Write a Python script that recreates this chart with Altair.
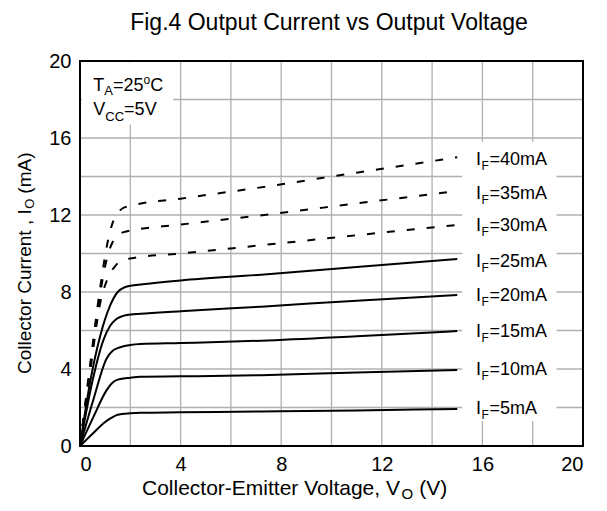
import altair as alt
import pandas as pd

FONT = "Liberation Sans"

# ---------------- data ----------------
V_IF5 = [0, 0.53, 1.0, 1.3, 1.5, 2.0, 2.4, 4, 7.2, 11, 15]
I_IF5 = [0, 0.68, 1.25, 1.5, 1.62, 1.7, 1.73, 1.75, 1.79, 1.85, 1.92]
V_IF10 = [0, 0.53, 1.06, 1.3, 1.5, 2.0, 2.4, 4, 7.2, 11, 15]
I_IF10 = [0, 1.5, 2.9, 3.3, 3.45, 3.55, 3.6, 3.62, 3.68, 3.82, 3.95]
V_IF15 = [0, 0.53, 1.06, 1.3, 1.52, 2.0, 2.4, 4, 7.2, 11, 15]
I_IF15 = [0, 2.4, 4.55, 4.95, 5.1, 5.25, 5.3, 5.35, 5.47, 5.7, 5.97]
V_IF20 = [0, 0.5, 0.93, 1.2, 1.4, 1.86, 2.4, 4, 7.2, 11, 15]
I_IF20 = [0, 3.4, 5.5, 6.25, 6.55, 6.8, 6.87, 7.0, 7.24, 7.55, 7.85]
V_IF25 = [0, 0.4, 0.8, 1.2, 1.5, 1.9, 2.5, 4, 7.2, 11, 15]
I_IF25 = [0, 3.3, 5.7, 7.3, 8.0, 8.3, 8.4, 8.6, 8.9, 9.3, 9.71]
V_IF30 = [0, 0.4, 0.8, 1.1, 1.4, 1.7, 2.05, 4, 7, 11, 15]
I_IF30 = [0, 3.8, 7.4, 8.7, 9.35, 9.65, 9.75, 10.0, 10.4, 10.95, 11.48]
V_IF35 = [0, 0.4, 0.8, 1.1, 1.3, 1.5, 1.8, 4, 7, 11, 15]
I_IF35 = [0, 4.0, 7.9, 9.9, 10.6, 10.95, 11.13, 11.5, 11.95, 12.6, 13.25]
V_IF40 = [0, 0.4, 0.8, 1.1, 1.3, 1.5, 1.7, 2.0, 4, 7, 11, 15]
I_IF40 = [0, 4.2, 8.2, 10.6, 11.6, 12.1, 12.35, 12.47, 12.85, 13.4, 14.2, 15.0]

CURVE_NAMES = ["5", "10", "15", "20", "25", "30", "35", "40"]
CURVE_STYLE = ["solid"] * 5 + ["dashed"] * 3
CURVE_V = [V_IF5, V_IF10, V_IF15, V_IF20, V_IF25, V_IF30, V_IF35, V_IF40]
CURVE_I = [I_IF5, I_IF10, I_IF15, I_IF20, I_IF25, I_IF30, I_IF35, I_IF40]

LABEL_TEXT = ["=5mA", "=10mA", "=15mA", "=20mA", "=25mA", "=30mA", "=35mA", "=40mA"]
LABEL_I = [1.9, 3.95, 5.94, 7.79, 9.57, 11.43, 13.1, 14.86]
LABEL_V = 15.75

GRID_X = list(range(2, 20, 2))
GRID_Y = list(range(2, 20, 2))
TICK_X = list(range(0, 21, 4))
TICK_Y = list(range(0, 21, 4))

TITLE = "Fig.4 Output Current vs Output Voltage"

# ---------------- layout ----------------
W, H = 503, 385
PAD = {"left": 72, "top": 53, "right": 16, "bottom": 57}

AW = {" ": 278, "(": 333, ")": 333, ",": 278, "-": 333, ".": 278, "=": 584,
      "A": 667, "C": 722, "E": 667, "F": 611, "I": 278, "O": 778, "T": 611, "V": 667,
      "a": 556, "c": 500, "e": 556, "g": 556, "i": 222, "l": 222, "m": 833, "n": 556,
      "o": 556, "p": 556, "r": 333, "s": 500, "t": 278, "u": 556, "v": 500}


def tw(s, size):
    return sum(AW.get(ch, 556) for ch in s) / 1000 * size


rows = []
for name, style, vs, is_ in zip(CURVE_NAMES, CURVE_STYLE, CURVE_V, CURVE_I):
    for k, (v, i) in enumerate(zip(vs, is_)):
        rows.append({"curve": name, "style": style, "v": v, "i": i, "k": k})
df = pd.DataFrame(rows)

xscale = alt.Scale(domain=[0, 20], nice=False, zero=False)
yscale = alt.Scale(domain=[0, 20], nice=False, zero=False)

xaxis = alt.Axis(values=TICK_X, ticks=False, domain=False, grid=False,
                 labelFont=FONT, labelFontSize=20, labelColor="black", labelPadding=8,
                 title=None)
yaxis = alt.Axis(values=TICK_Y, ticks=False, domain=False, grid=False,
                 labelFont=FONT, labelFontSize=20, labelColor="black", labelPadding=9,
                 title=None)

one = pd.DataFrame({"a": [0]})
GRID_COLOR = "#b0b0b0"

vgrid = alt.Chart(pd.DataFrame({"gx": GRID_X})).mark_rule(color=GRID_COLOR, strokeWidth=1.3).encode(
    x=alt.X("gx:Q", scale=xscale, axis=xaxis), y=alt.value(0), y2=alt.value(H))
hgrid = alt.Chart(pd.DataFrame({"gy": GRID_Y})).mark_rule(color=GRID_COLOR, strokeWidth=1.3).encode(
    y=alt.Y("gy:Q", scale=yscale, axis=yaxis), x=alt.value(0), x2=alt.value(W))

# white boxes behind annotations
boxes = pd.DataFrame({"bx1": [0.08, 15.2], "bx2": [3.7, 18.95],
                      "by1": [16.7, 1.3], "by2": [19.92, 15.8]})
box_layer = alt.Chart(boxes).mark_rect(fill="white").encode(
    x=alt.X("bx1:Q"), x2="bx2:Q", y=alt.Y("by1:Q"), y2="by2:Q")

solid = alt.Chart(df).transform_filter(alt.datum.style == "solid").mark_line(
    color="black", strokeWidth=2, interpolate="monotone").encode(
    x=alt.X("v:Q"), y=alt.Y("i:Q"), detail="curve:N", order="k:Q")
dashed = alt.Chart(df).transform_filter(alt.datum.style == "dashed").mark_line(
    color="black", strokeWidth=2, strokeDash=[8, 12], interpolate="monotone").encode(
    x=alt.X("v:Q"), y=alt.Y("i:Q"), detail="curve:N", order="k:Q")

ldf = pd.DataFrame({"v": [LABEL_V] * len(LABEL_I), "i": LABEL_I, "t": LABEL_TEXT})
lab_I = alt.Chart(ldf).mark_text(align="left", baseline="middle", font=FONT, fontSize=18,
                                 color="black").encode(x="v:Q", y="i:Q", text=alt.value("I"))
lab_F = alt.Chart(ldf).mark_text(align="left", baseline="middle", font=FONT, fontSize=12,
                                 color="black", dx=tw("I", 18) + 0.5, dy=6).encode(
    x="v:Q", y="i:Q", text=alt.value("F"))
lab_R = alt.Chart(ldf).mark_text(align="left", baseline="middle", font=FONT, fontSize=18,
                                 color="black", dx=tw("I", 18) + tw("F", 12) + 1).encode(
    x="v:Q", y="i:Q", text="t:N")


def pieces(parts, x0, y0, angle=None, data_coords=True):
    """parts: list of (text, size, shift, gap_before)"""
    layers = []
    off = 0.0
    for text, size, dy, gap in parts:
        off += gap
        kw = dict(align="left", baseline="middle", font=FONT, fontSize=size, color="black")
        if data_coords:
            kw.update(dx=off, dy=dy)
            enc = dict(x=alt.X("v:Q"), y=alt.Y("i:Q"), text=alt.value(text))
            d = pd.DataFrame({"v": [x0], "i": [y0]})
        else:
            d = one
            if angle is not None:
                kw["angle"] = angle
                enc = dict(x=alt.value(x0 + dy), y=alt.value(y0 - off), text=alt.value(text))
            else:
                enc = dict(x=alt.value(x0 + off), y=alt.value(y0 + dy), text=alt.value(text))
        layers.append(alt.Chart(d).mark_text(**kw).encode(**enc))
        off += tw(text, size)
    return layers


ann1 = pieces([("T", 18, 0, 0), ("A", 13, 5, 0), ("=25", 18, 0, 0), ("o", 12, -6, 0),
               ("C", 18, 0, 0)], 0.53, 18.7)
ann2 = pieces([("V", 18, 0, 0), ("CC", 13, 7, 0), ("=5V", 18, 0, 0)], 0.53, 17.47)

# x title
xparts = [("Collector-Emitter Voltage, V", 21, 0, 0), ("O", 15, 5, 0.5), ("(V)", 21, 0, 6)]
xt = pieces(xparts, 62, 428, data_coords=False)

# y title
yparts = [("Collector Current , I", 19, 0, 0), ("O", 13, 5, 0.5), ("(mA)", 19, 0, 5)]
yt = pieces(yparts, -55, 313, angle=270, data_coords=False)

title = alt.Chart(one).mark_text(align="center", baseline="middle", font=FONT, fontSize=23,
                                 color="black").encode(
    x=alt.value(249), y=alt.value(-38), text=alt.value(TITLE))

frame = alt.Chart(one).mark_rect(filled=False, fill="transparent", stroke="black",
                                 strokeWidth=2).encode(
    x=alt.value(0), x2=alt.value(W), y=alt.value(0), y2=alt.value(H))

chart = alt.layer(vgrid, hgrid, box_layer, solid, dashed, lab_I, lab_F, lab_R, *ann1, *ann2,
                  *xt, *yt, title, frame).properties(
    width=W, height=H, padding=PAD, autosize=alt.AutoSizeParams(type="none")
).configure_view(stroke=None).configure(background="white")

chart.save("out.html", embed_options={"renderer": "svg", "actions": False})
